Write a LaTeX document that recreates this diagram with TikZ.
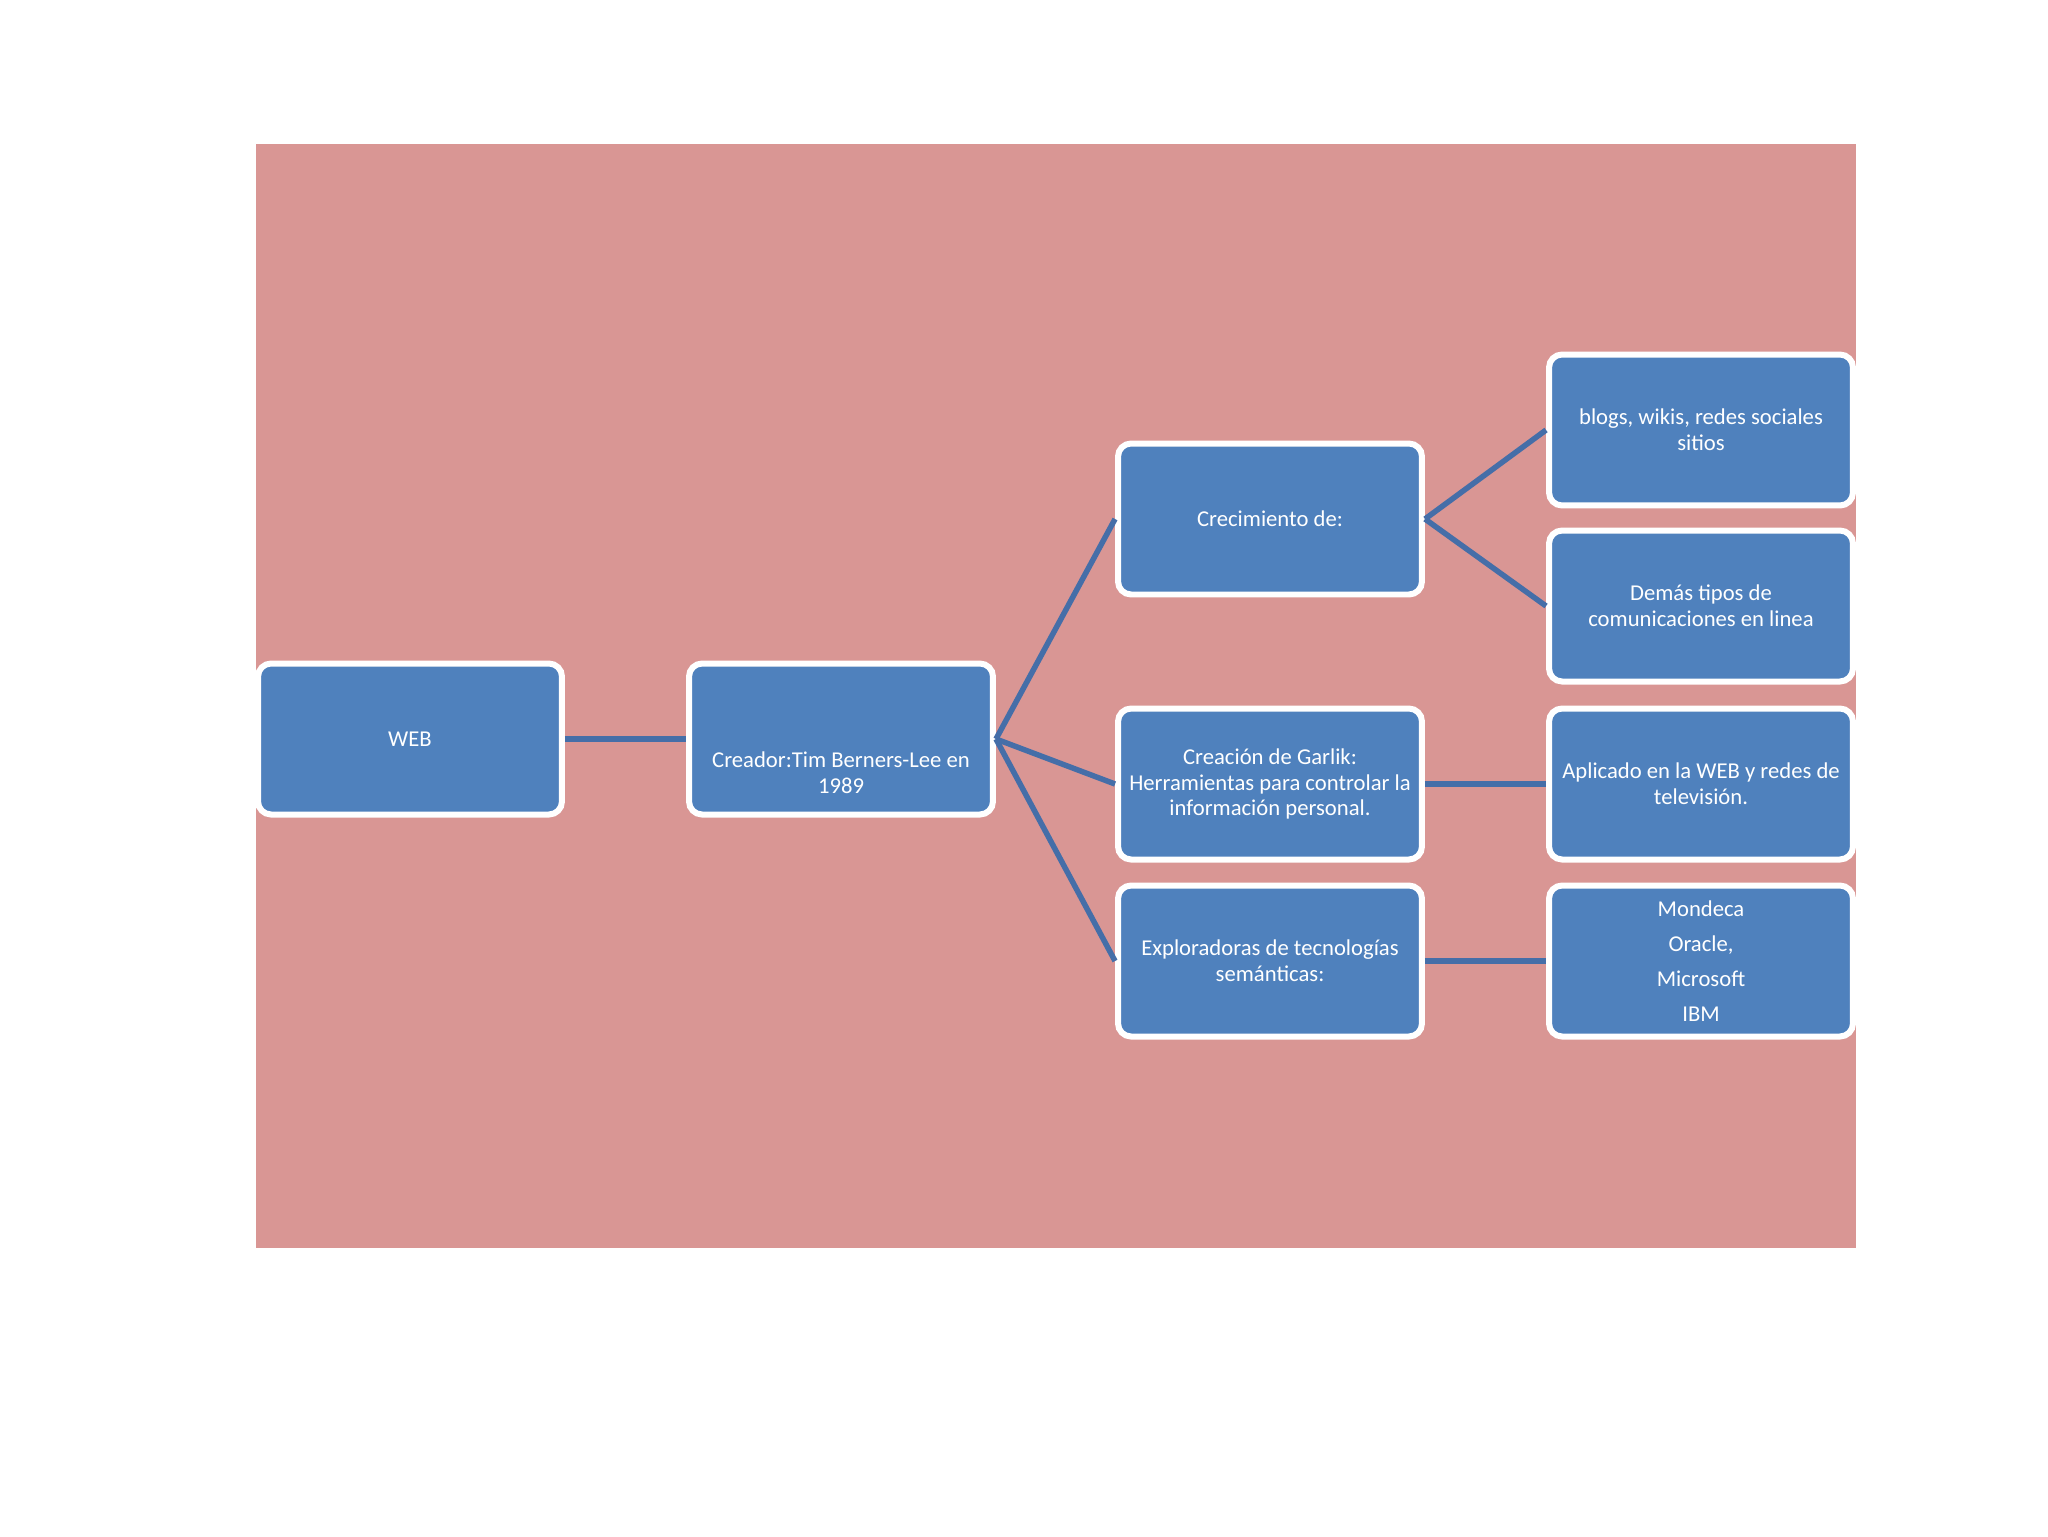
\documentclass[tikz,border=0pt]{standalone}
\usepackage{fontspec}
\setmainfont{Carlito}

\definecolor{bgpink}{RGB}{217,150,148}
\definecolor{boxblue}{RGB}{79,129,189}
\definecolor{linkblue}{RGB}{69,110,168}

\begin{document}
\begin{tikzpicture}[
    x=0.02cm, y=-0.02cm,
    font=\fontsize{12.9}{14.7}\selectfont,
    box/.style={draw=white, fill=boxblue, line width=0.12cm, rounded corners=0.26cm,
                text=white, align=center, inner sep=2pt,
                minimum width=6.08cm, minimum height=3.02cm},
    txt/.style={text=white, align=center, inner sep=0pt},
    link/.style={draw=linkblue, line width=0.11cm}
  ]

  % ---------- page and panel -----------------------------------------------
  \useasboundingbox (0,0) rectangle (2048,1536);
  \fill[bgpink] (256,144) rectangle (1856,1248);

  % ---------- left column --------------------------------------------------
  \node[box] (web)     at (410,739) {WEB};
  \node[box] (creador) at (841,739) {};
  \node[txt] (creadortxt) at (841,773) {Creador:Tim Berners-Lee en\\1989};

  % ---------- middle column ------------------------------------------------
  \node[box] (crec)   at (1270,519) {Crecimiento de:};
  \node[box] (garlik) at (1270,784) {Creación de Garlik:\\Herramientas para controlar la\\información personal.};
  \node[box] (explo)  at (1270,961) {Exploradoras de tecnologías\\semánticas:};

  % ---------- right column -------------------------------------------------
  \node[box] (blogs)    at (1701,430) {blogs, wikis, redes sociales\\sitios};
  \node[box] (demas)    at (1701,606) {Demás tipos de\\comunicaciones en linea};
  \node[box] (aplicado) at (1701,784) {Aplicado en la WEB y redes de\\televisión.};
  \node[box, font=\fontsize{12.9}{19.9}\selectfont] (empresas) at (1701,961)
        {Mondeca\\Oracle,\\Microsoft\\IBM};

  % ---------- connectors ---------------------------------------------------
  \draw[link] (web.east) -- (creador.west);
  \draw[link] (creador.east) -- (crec.west);
  \draw[link] (creador.east) -- (garlik.west);
  \draw[link] (creador.east) -- (explo.west);
  \draw[link] (crec.east) -- (blogs.west);
  \draw[link] (crec.east) -- (demas.west);
  \draw[link] (garlik.east) -- (aplicado.west);
  \draw[link] (explo.east) -- (empresas.west);

\end{tikzpicture}
\end{document}
